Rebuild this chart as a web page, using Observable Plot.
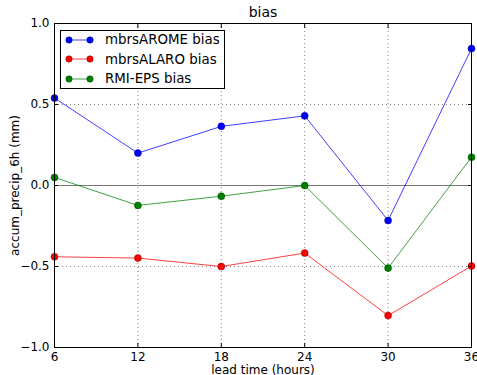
<!DOCTYPE html>
<html>
<head>
<meta charset="utf-8">
<script src="https://cdn.jsdelivr.net/npm/d3@7"></script>
<script src="https://cdn.jsdelivr.net/npm/@observablehq/plot@0.6"></script>
<style>
  html, body { margin: 0; padding: 0; background: #fff; }
  #wrap { position: relative; width: 477px; height: 375px; font-family: "DejaVu Sans", sans-serif; }
  #legend { position: absolute; left: 60px; top: 30px; width: 163px; height: 57px; border: 1px solid #000; background: #fff; box-sizing: content-box; }
  .row { position: absolute; left: 0; height: 20px; display: flex; align-items: center; }
  .row span { font-size: 13.4px; color: #000; margin-left: 6px; white-space: nowrap; }
</style>
</head>
<body>
<div id="wrap"></div>
<script>
const leadTimes = [6, 12, 18, 24, 30, 36];
const seriesNames = ["mbrsAROME bias", "mbrsALARO bias", "RMI-EPS bias"];
const arome = [0.54, 0.20, 0.365, 0.43, -0.216, 0.845];
const alaro = [-0.44, -0.448, -0.50, -0.417, -0.803, -0.497];
const rmi = [0.05, -0.123, -0.066, 0.0, -0.51, 0.175];
const xTicks = [6, 12, 18, 24, 30, 36];
const yTicks = [-1.0, -0.5, 0.0, 0.5, 1.0];
const colors = ["#0000ff", "#ff0000", "#008000"];
const edgeColors = ["#000080", "#800000", "#004000"];

const values = [arome, alaro, rmi];
const data = [];
seriesNames.forEach((s, i) => leadTimes.forEach((t, j) => data.push({series: s, t, v: values[i][j]})));

const colorScale = {domain: seriesNames, range: colors};

const chart = Plot.plot({
  width: 477,
  height: 375,
  marginLeft: 54,
  marginRight: 6,
  marginTop: 23,
  marginBottom: 28,
  style: {fontFamily: "DejaVu Sans, sans-serif", fontSize: "12px", color: "#000", background: "#fff"},
  x: {domain: [6, 36]},
  y: {domain: [-1, 1]},
  color: colorScale,
  marks: [
    Plot.gridX(xTicks, {stroke: "#000", strokeOpacity: 0.5, strokeDasharray: "1,3"}),
    Plot.gridY(yTicks, {stroke: "#000", strokeOpacity: 0.5, strokeDasharray: "1,3"}),
    Plot.ruleY([0], {stroke: "#777", strokeWidth: 1.2}),
    Plot.line(data, {x: "t", y: "v", z: "series", stroke: "series", strokeWidth: 1, strokeOpacity: 0.75}),
    Plot.dot(data, {x: "t", y: "v", fill: "series", stroke: d => edgeColors[seriesNames.indexOf(d.series)], strokeWidth: 0.5, r: 3.5}),
    Plot.frame({stroke: "#000", strokeWidth: 1}),
    Plot.axisX(xTicks, {anchor: "bottom", tickSize: 0, tickPadding: 5, label: "lead time (hours)", labelAnchor: "center", labelArrow: "none", labelOffset: 26, fontSize: 12}),
    Plot.axisX(xTicks, {anchor: "bottom", tickSize: -4, tickFormat: () => "", label: null}),
    Plot.axisX(xTicks, {anchor: "top", tickSize: -4, tickFormat: () => "", label: null}),
    Plot.axisY(yTicks, {anchor: "left", tickSize: 0, tickPadding: 5, tickFormat: d3.format(".1f"), label: "accum_precip_6h (mm)", labelAnchor: "center", labelArrow: "none", labelOffset: 44, fontSize: 12}),
    Plot.axisY(yTicks, {anchor: "left", tickSize: -4, tickFormat: () => "", label: null}),
    Plot.axisY(yTicks, {anchor: "right", tickSize: -4, tickFormat: () => "", label: null}),
    Plot.text(["bias"], {frameAnchor: "top", dy: -16, fontSize: 14, fill: "#000"})
  ]
});

const wrap = document.getElementById("wrap");
wrap.appendChild(chart);

const legend = document.createElement("div");
legend.id = "legend";
seriesNames.forEach((s, i) => {
  const row = document.createElement("div");
  row.className = "row";
  row.style.top = (-1.5 + i * 19.5) + "px";
  const c = colors[i], e = edgeColors[i];
  row.innerHTML = `<svg width="38" height="20"><line x1="8" x2="29" y1="10" y2="10" stroke="${c}" stroke-opacity="0.75"/>` +
    `<circle cx="8" cy="10" r="3.2" fill="${c}" stroke="${e}" stroke-width="0.5"/>` +
    `<circle cx="29" cy="10" r="3.2" fill="${c}" stroke="${e}" stroke-width="0.5"/></svg><span>${s}</span>`;
  legend.appendChild(row);
});
wrap.appendChild(legend);
</script>
</body>
</html>
